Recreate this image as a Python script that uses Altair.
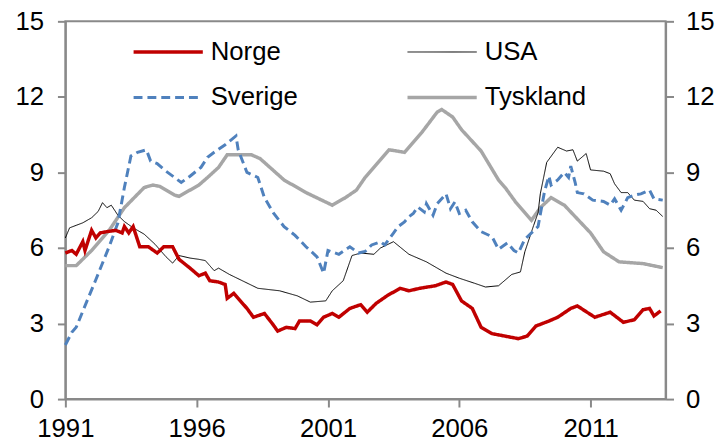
import altair as alt
import pandas as pd

# Unemployment rate (%), monthly
NORGE = [
    ("1991-01", 5.8), ("1991-04", 5.9), ("1991-06", 5.75), ("1991-09", 6.25), ("1991-10", 5.9),
    ("1992-01", 6.7), ("1992-03", 6.4), ("1992-05", 6.6), ("1992-08", 6.65), ("1992-12", 6.7),
    ("1993-03", 6.6), ("1993-04", 6.85), ("1993-06", 6.6), ("1993-08", 6.85), ("1993-11", 6.05),
    ("1994-03", 6.05), ("1994-07", 5.8), ("1994-10", 6.05), ("1995-02", 6.05), ("1995-05", 5.55),
    ("1995-10", 5.2), ("1996-02", 4.9), ("1996-05", 5.0), ("1996-07", 4.7), ("1996-11", 4.65),
    ("1997-02", 4.55), ("1997-03", 4.0), ("1997-06", 4.2), ("1997-12", 3.6), ("1998-03", 3.25),
    ("1998-08", 3.4), ("1998-12", 2.95), ("1999-02", 2.7), ("1999-06", 2.85), ("1999-10", 2.8),
    ("1999-12", 3.1), ("2000-05", 3.1), ("2000-08", 2.95), ("2000-11", 3.25), ("2001-03", 3.4),
    ("2001-06", 3.25), ("2001-11", 3.6), ("2002-04", 3.75), ("2002-07", 3.45), ("2002-11", 3.8),
    ("2003-04", 4.1), ("2003-10", 4.4), ("2004-02", 4.3), ("2004-07", 4.4), ("2005-02", 4.5),
    ("2005-07", 4.65), ("2005-10", 4.55), ("2006-02", 3.9), ("2006-07", 3.6), ("2006-11", 2.85),
    ("2007-04", 2.6), ("2007-10", 2.5), ("2008-04", 2.4), ("2008-08", 2.5), ("2008-12", 2.9),
    ("2009-06", 3.1), ("2009-10", 3.25), ("2010-04", 3.6), ("2010-07", 3.7), ("2011-03", 3.25),
    ("2011-10", 3.45), ("2012-04", 3.05), ("2012-09", 3.15), ("2013-01", 3.55), ("2013-04", 3.6),
    ("2013-06", 3.3), ("2013-09", 3.5),
]

USA = [
    ("1991-01", 6.4), ("1991-03", 6.8), ("1991-06", 6.9), ("1991-09", 7.0), ("1992-01", 7.2),
    ("1992-04", 7.45), ("1992-06", 7.8), ("1992-08", 7.6), ("1992-10", 7.7), ("1993-01", 7.3),
    ("1993-04", 7.05), ("1993-08", 6.8), ("1994-01", 6.55), ("1994-06", 6.15), ("1994-11", 5.65),
    ("1995-02", 5.4), ("1995-05", 5.7), ("1995-10", 5.6), ("1996-02", 5.55), ("1996-05", 5.5),
    ("1996-07", 5.3), ("1996-09", 5.1), ("1996-11", 5.2), ("1997-04", 4.95), ("1998-05", 4.4),
    ("1999-03", 4.3), ("1999-11", 4.1), ("2000-05", 3.85), ("2000-12", 3.9), ("2001-03", 4.3),
    ("2001-08", 4.7), ("2001-12", 5.7), ("2002-04", 5.8), ("2002-10", 5.75), ("2003-01", 6.0),
    ("2003-07", 6.25), ("2004-02", 5.75), ("2004-10", 5.45), ("2005-07", 5.0), ("2006-01", 4.8),
    ("2006-08", 4.6), ("2007-01", 4.45), ("2007-07", 4.5), ("2008-01", 4.95), ("2008-05", 5.05),
    ("2008-07", 5.85), ("2008-11", 6.9), ("2009-01", 7.4), ("2009-02", 8.15), ("2009-05", 9.4),
    ("2009-10", 10.0), ("2010-02", 9.85), ("2010-05", 9.9), ("2010-07", 9.45), ("2010-11", 9.75),
    ("2011-01", 9.1), ("2011-07", 9.05), ("2011-10", 8.95), ("2011-12", 8.55), ("2012-03", 8.2),
    ("2012-06", 8.2), ("2012-09", 7.9), ("2013-01", 7.85), ("2013-04", 7.56), ("2013-07", 7.5),
    ("2013-10", 7.25),
]

SVERIGE = [
    ("1991-01", 2.15), ("1991-04", 2.65), ("1991-06", 2.85), ("1991-10", 3.7), ("1992-03", 4.75),
    ("1992-09", 6.05), ("1993-01", 7.0), ("1993-04", 8.4), ("1993-07", 9.65), ("1993-10", 9.8),
    ("1994-02", 9.9), ("1994-04", 9.45), ("1994-07", 9.35), ("1994-11", 9.05), ("1995-03", 8.8),
    ("1995-06", 8.6), ("1995-10", 8.85), ("1996-03", 9.2), ("1996-06", 9.6), ("1996-09", 9.8),
    ("1997-02", 10.1), ("1997-07", 10.45), ("1997-08", 9.9), ("1997-12", 9.0), ("1998-05", 8.8),
    ("1998-08", 8.0), ("1998-12", 7.4), ("1999-05", 6.85), ("1999-10", 6.5), ("2000-03", 6.05),
    ("2000-08", 5.65), ("2000-11", 5.0), ("2001-01", 5.9), ("2001-06", 5.75), ("2001-11", 6.05),
    ("2002-03", 5.8), ("2002-06", 5.86), ("2002-09", 6.12), ("2003-01", 6.25), ("2003-03", 6.12),
    ("2003-07", 6.59), ("2003-09", 6.84), ("2003-12", 7.04), ("2004-02", 7.24), ("2004-04", 7.37),
    ("2004-06", 7.63), ("2004-09", 7.43), ("2004-10", 7.76), ("2005-01", 7.3), ("2005-03", 7.76),
    ("2005-07", 8.15), ("2005-09", 7.56), ("2005-11", 7.83), ("2006-01", 7.37), ("2006-04", 7.5),
    ("2006-07", 7.04), ("2006-11", 6.65), ("2007-04", 6.45), ("2007-07", 5.95), ("2007-11", 6.2),
    ("2008-02", 5.9), ("2008-04", 5.8), ("2008-07", 6.35), ("2009-01", 6.85), ("2009-04", 8.25),
    ("2009-06", 8.85), ("2009-07", 8.5), ("2009-10", 8.7), ("2010-01", 9.0), ("2010-03", 8.8),
    ("2010-04", 9.25), ("2010-06", 8.6), ("2010-07", 8.2), ("2010-10", 8.15), ("2011-02", 7.9),
    ("2011-07", 7.85), ("2011-10", 7.7), ("2011-12", 7.95), ("2012-03", 7.5), ("2012-06", 8.0),
    ("2012-09", 8.1), ("2012-12", 8.15), ("2013-04", 8.3), ("2013-06", 7.95), ("2013-10", 7.9),
]

TYSKLAND = [
    ("1991-01", 5.3), ("1991-06", 5.3), ("1992-01", 5.9), ("1992-09", 6.7), ("1993-04", 7.6),
    ("1994-01", 8.4), ("1994-05", 8.5), ("1994-08", 8.45), ("1995-03", 8.1), ("1995-05", 8.05),
    ("1996-02", 8.5), ("1996-06", 8.8), ("1996-11", 9.2), ("1997-03", 9.7), ("1998-02", 9.7),
    ("1998-06", 9.55), ("1999-05", 8.7), ("2000-03", 8.2), ("2001-03", 7.7), ("2001-09", 8.0),
    ("2002-02", 8.3), ("2002-06", 8.8), ("2003-05", 9.9), ("2003-12", 9.8), ("2004-08", 10.6),
    ("2005-03", 11.4), ("2005-05", 11.5), ("2005-10", 11.2), ("2006-02", 10.7), ("2006-11", 9.85),
    ("2007-07", 8.7), ("2007-10", 8.4), ("2008-03", 7.8), ("2008-10", 7.1), ("2009-02", 7.6),
    ("2009-07", 8.0), ("2010-01", 7.7), ("2011-01", 6.6), ("2011-07", 5.85), ("2012-02", 5.45),
    ("2013-01", 5.38), ("2013-10", 5.22),
]

# legend fills column-first: column 1 = Norge, Sverige; column 2 = USA, Tyskland
SERIES_ORDER = ["Norge", "Sverige", "USA", "Tyskland"]
COLORS = ["#C00000", "#4F81BD", "#000000", "#A6A6A6"]
WIDTHS = [3.5, 3, 1, 3.5]
DASHES = [[1, 0], [9, 5], [1, 0], [1, 0]]
Y_TICKS = [0, 3, 6, 9, 12, 15]
X_TICK_YEARS = [1991, 1996, 2001, 2006, 2011]

rows = []
for name, pts in [("Tyskland", TYSKLAND), ("USA", USA), ("Sverige", SVERIGE), ("Norge", NORGE)]:
    for d, v in pts:
        rows.append({"series": name, "date": d, "value": v})
df = pd.DataFrame(rows)

FONT = "Liberation Sans"
AX_COLOR = "#898989"

x_enc = alt.X(
    "date:T",
    scale=alt.Scale(
        type="utc",
        domain=[alt.DateTime(year=1991, month=1, date=1, utc=True),
                alt.DateTime(year=2013, month=11, date=10, utc=True)],
    ),
    axis=alt.Axis(
        values=[alt.DateTime(year=y, month=1, date=1, utc=True) for y in X_TICK_YEARS],
        format="%Y", title=None, labelPadding=9, labelFlush=False,
    ),
)

legend = alt.Legend(
    title=None, orient="none", legendX=67, legendY=18, columns=2,
    symbolType="stroke", symbolSize=4900, clipHeight=26, rowPadding=20,
    columnPadding=108, labelOffset=6, labelFontSize=26, labelFont=FONT,
    labelColor="black", padding=0,
)

lines = alt.Chart(df).mark_line().encode(
    x=x_enc,
    y=alt.Y("value:Q", scale=alt.Scale(domain=[0, 15]),
            axis=alt.Axis(values=Y_TICKS, orient="left", title=None, labelPadding=14)),
    color=alt.Color("series:N", scale=alt.Scale(domain=SERIES_ORDER, range=COLORS), legend=legend),
    strokeDash=alt.StrokeDash("series:N", scale=alt.Scale(domain=SERIES_ORDER, range=DASHES), legend=legend),
    strokeWidth=alt.StrokeWidth("series:N",
                                scale=alt.Scale(type="ordinal", domain=SERIES_ORDER, range=WIDTHS),
                                legend=legend),
)

right = alt.Chart(df).mark_line(strokeOpacity=0).encode(
    x=x_enc,
    y=alt.Y("value:Q", scale=alt.Scale(domain=[0, 15]),
            axis=alt.Axis(values=Y_TICKS, orient="right", title=None, labelPadding=12)),
)

chart = alt.layer(lines, right).resolve_scale(y="independent").properties(
    width=607, height=382,
    padding={"left": 58, "top": 11, "right": 55, "bottom": 50},
    autosize=alt.AutoSizeParams(type="none"),
).configure_view(
    stroke=AX_COLOR, strokeWidth=2,
).configure_axis(
    grid=False, domainColor=AX_COLOR, domainWidth=2, tickColor=AX_COLOR, tickWidth=2,
    tickSize=8, labelFont=FONT, labelFontSize=26, labelColor="black",
)

chart.save("out.html", embed_options={"renderer": "svg", "actions": False})
